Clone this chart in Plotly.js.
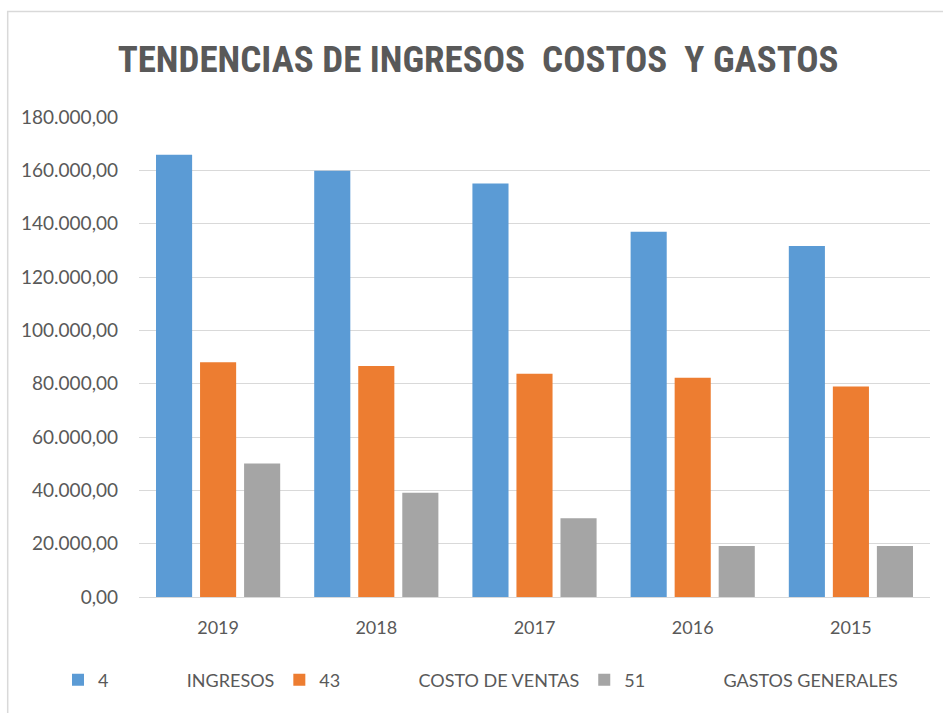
<!DOCTYPE html>
<html>
<head>
<meta charset="utf-8">
<script src="https://cdn.plot.ly/plotly-3.0.1.min.js"></script>
<style>html,body{margin:0;padding:0;background:#fff;}#chart{width:943px;height:713px;}</style>
</head>
<body>
<div id="chart"></div>
<script>
var years = ["2019", "2018", "2017", "2016", "2015"];
var ingresos = [165800, 159800, 155100, 137000, 131600];
var costoVentas = [88000, 86600, 83700, 82200, 78900];
var gastosGenerales = [50100, 39100, 29500, 19100, 19100];
var seriesCodes = ["4", "43", "51"];
var seriesNames = ["INGRESOS", "COSTO DE VENTAS", "GASTOS GENERALES"];
var colors = ["#5B9BD5", "#ED7D31", "#A5A5A5"];
var sp = function(n){ return Array(n + 1).join("\u00A0"); };
var FONT = "Lato, 'Open Sans', sans-serif";
var TITLE_FONT = "'Roboto Condensed', 'Liberation Sans Narrow', Lato, sans-serif";

var data = [ingresos, costoVentas, gastosGenerales].map(function(vals, i){
  return {
    type: "bar",
    x: years,
    y: vals,
    name: seriesCodes[i] + sp(17) + seriesNames[i],
    marker: {color: colors[i]},
    hoverinfo: "x+y"
  };
});

var layout = {
  width: 943, height: 713,
  margin: {l: 139, r: 13, t: 117, b: 116},
  paper_bgcolor: "#ffffff", plot_bgcolor: "#ffffff",
  separators: ",.",
  barmode: "group",
  bargap: 0.165,
  bargroupgap: 0.18,
  font: {family: FONT, color: "#595959", size: 18},
  title: {
    text: "TENDENCIAS DE INGRESOS\u00A0 COSTOS\u00A0 Y GASTOS",
    font: {family: TITLE_FONT, size: 37, color: "#595959", weight: "bold"},
    x: 0.507, xref: "container", xanchor: "center",
    y: 0.917, yref: "container", yanchor: "middle"
  },
  xaxis: {
    type: "category",
    showgrid: false,
    showline: true, linecolor: "#d9d9d9", linewidth: 1,
    ticks: "", ticklabelstandoff: 14,
    tickfont: {family: FONT, size: 18, color: "#595959"}
  },
  yaxis: {
    range: [0, 180000], dtick: 20000, tick0: 0,
    tickformat: ",.2f",
    showgrid: true, gridcolor: "#d9d9d9", gridwidth: 1,
    zeroline: true, zerolinecolor: "#d9d9d9", zerolinewidth: 1,
    showline: false, ticks: "", ticklabelstandoff: 20,
    tickfont: {family: FONT, size: 19, color: "#595959"}
  },
  showlegend: true,
  legend: {
    orientation: "h",
    x: -0.1024, xanchor: "left",
    y: -0.173, yanchor: "middle",
    font: {family: FONT, size: 18, color: "#595959"},
    itemwidth: 30,
    traceorder: "normal"
  },
  shapes: [{
    type: "rect", xref: "paper", yref: "paper",
    x0: -0.166, x1: 1.03, y0: -0.3, y1: 1.22,
    line: {color: "#d9d9d9", width: 1.5}, fillcolor: "rgba(0,0,0,0)", layer: "below"
  }]
};

Plotly.newPlot("chart", data, layout, {displayModeBar: false, staticPlot: true});
</script>
</body>
</html>
